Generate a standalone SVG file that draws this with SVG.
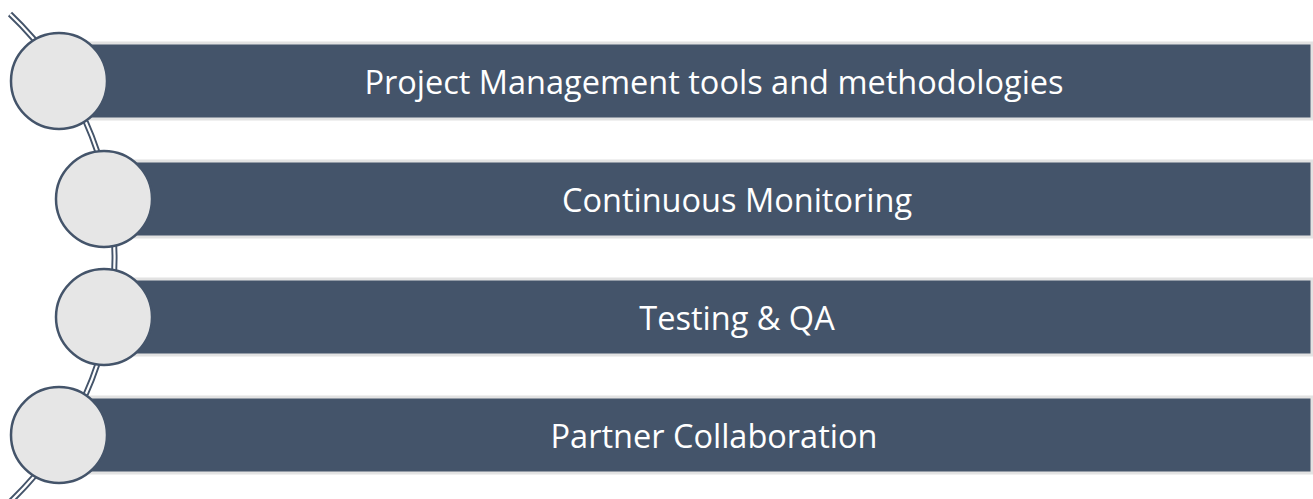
<svg xmlns="http://www.w3.org/2000/svg" width="1313" height="499" viewBox="0 0 1313 499">
<style>
.bar{fill:#44546A;stroke:#E2E2E2;stroke-width:3}
.node circle{fill:#E6E6E6;stroke:#44546A;stroke-width:2.5}
.lbl{font-family:"Open Sans","Liberation Sans",sans-serif;font-size:32.5px;fill:#FFFFFF;text-anchor:middle;dominant-baseline:central}
.arcOuter{fill:none;stroke:#44546A;stroke-width:6}
.arcInner{fill:none;stroke:#FFFFFF;stroke-width:2.2}
</style>
<rect width="1313" height="499" fill="#FFFFFF"/>
<g id="connectors">
<path class="arcOuter" d="M 10 14 A 337 337 0 0 1 10 502"/>
<path class="arcInner" d="M 10 14 A 337 337 0 0 1 10 502"/>
</g>
<g id="node1" class="node">
<rect class="bar" x="59" y="43" width="1253" height="76"/>
<circle cx="59" cy="81" r="48"/>
<text class="lbl" x="714" y="81">Project Management tools and methodologies</text>
</g>
<g id="node2" class="node">
<rect class="bar" x="104" y="161" width="1208" height="76"/>
<circle cx="104" cy="199" r="48"/>
<text class="lbl" x="737" y="199">Continuous Monitoring</text>
</g>
<g id="node3" class="node">
<rect class="bar" x="104" y="279" width="1208" height="76"/>
<circle cx="104" cy="317" r="48"/>
<text class="lbl" x="737" y="317">Testing &amp; QA</text>
</g>
<g id="node4" class="node">
<rect class="bar" x="59" y="397" width="1253" height="76"/>
<circle cx="59" cy="435" r="48"/>
<text class="lbl" x="714" y="435">Partner Collaboration</text>
</g>
</svg>
